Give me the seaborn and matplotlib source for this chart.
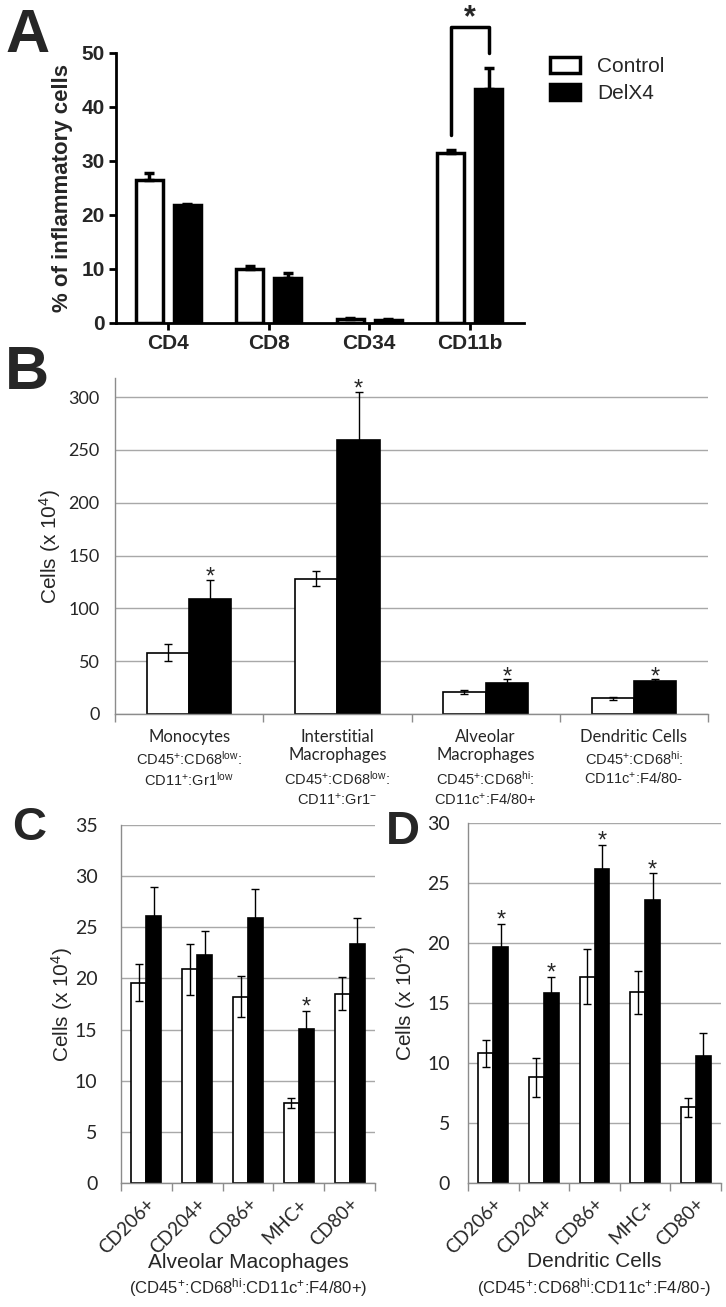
import numpy as np
import pandas as pd
import seaborn as sns
import matplotlib.pyplot as plt
from matplotlib.patches import Patch

sns.set_theme(style='white')
plt.rcParams['font.family'] = ['Liberation Sans', 'DejaVu Sans']
plt.rcParams['mathtext.fontset'] = 'custom'
plt.rcParams['mathtext.rm'] = 'Liberation Sans'
plt.rcParams['mathtext.it'] = 'Liberation Sans:italic'
plt.rcParams['mathtext.bf'] = 'Liberation Sans:bold'

# --- data ---
# A: % of inflammatory cells
a_cats = ['CD4', 'CD8', 'CD34', 'CD11b']
a_ctrl = [26.5, 10.0, 0.8, 31.4]
a_ctrl_err = [1.3, 0.6, 0.2, 0.7]
a_delx = [21.8, 8.3, 0.6, 43.3]
a_delx_err = [0.3, 1.0, 0.1, 3.9]

# B: cell counts (x 10^4)
b_cats = ['Monocytes', 'Interstitial\nMacrophages', 'Alveolar\nMacrophages', 'Dendritic Cells']
b_markers = [r'CD45$^{+}$:CD68$^{\rm low}$:' + '\n' + r'CD11$^{+}$:Gr1$^{\rm low}$',
             r'CD45$^{+}$:CD68$^{\rm low}$:' + '\n' + r'CD11$^{+}$:Gr1$^{-}$',
             r'CD45$^{+}$:CD68$^{\rm hi}$:' + '\n' + r'CD11c$^{+}$:F4/80+',
             r'CD45$^{+}$:CD68$^{\rm hi}$:' + '\n' + r'CD11c$^{+}$:F4/80-']
b_ctrl = [58, 128, 21, 15]
b_ctrl_err = [8, 7, 2, 1.5]
b_delx = [109, 259, 29, 31]
b_delx_err = [18, 46, 4, 2]
b_star = [True, True, True, True]

# C: alveolar macrophages, D: dendritic cells
cd_cats = ['CD206+', 'CD204+', 'CD86+', 'MHC+', 'CD80+']
c_ctrl = [19.6, 20.9, 18.2, 7.8, 18.5]
c_ctrl_err = [1.8, 2.5, 2.0, 0.5, 1.6]
c_delx = [26.1, 22.3, 25.9, 15.1, 23.4]
c_delx_err = [2.8, 2.3, 2.8, 1.7, 2.5]
c_star = [False, False, False, True, False]

d_ctrl = [10.8, 8.8, 17.2, 15.9, 6.3]
d_ctrl_err = [1.1, 1.6, 2.3, 1.8, 0.8]
d_delx = [19.7, 15.8, 26.2, 23.6, 10.6]
d_delx_err = [1.9, 1.4, 2.0, 2.2, 1.9]
d_star = [True, True, True, True, False]

groups = ['Control', 'DelX4']
pal = {'Control': 'white', 'DelX4': 'black'}
GRID = '#a8a8a8'
CALIBRI = ['Lato', 'DejaVu Sans']


def bars(ax, cats, ctrl, delx, width, gap, lw):
    df = pd.DataFrame({'cat': cats * 2,
                       'group': [groups[0]] * len(cats) + [groups[1]] * len(cats),
                       'val': ctrl + delx})
    sns.barplot(data=df, x='cat', y='val', hue='group', order=cats, hue_order=groups,
                palette=pal, saturation=1, edgecolor='black', linewidth=lw,
                width=width, gap=gap, errorbar=None, legend=False, ax=ax, zorder=2)


def errs(ax, cont, err, lw, cap, upper_only=False):
    xs = [p.get_x() + p.get_width() / 2 for p in cont]
    ys = [p.get_height() for p in cont]
    yerr = [np.zeros(len(err)), err] if upper_only else err
    ax.errorbar(xs, ys, yerr=yerr, fmt='none', ecolor='black', elinewidth=lw,
                capsize=cap, capthick=lw, zorder=3)
    return xs, [y + e for y, e in zip(ys, err)]


def excel_style(ax, n, ymax, ystep, ytick_size, ypad):
    ax.set_xlim(-0.5, n - 0.5)
    ax.set_ylim(0, ymax)
    ax.set_yticks(np.arange(0, ymax + 0.01, ystep))
    ax.yaxis.grid(True, color=GRID, lw=1)
    ax.set_axisbelow(True)
    for s in ['top', 'right']:
        ax.spines[s].set_visible(False)
    for s in ['left', 'bottom']:
        ax.spines[s].set_color('#8c8c8c')
        ax.spines[s].set_linewidth(1)
    ax.set_xticks(np.arange(-0.5, n, 1), minor=True)
    ax.tick_params(axis='x', which='minor', bottom=True, length=6, color='#8c8c8c', width=1)
    ax.tick_params(axis='x', which='major', length=0)
    ax.tick_params(axis='y', length=0, pad=ypad, labelsize=ytick_size)
    for t in ax.get_yticklabels():
        t.set_fontfamily(CALIBRI)
    ax.set_xlabel('')


def stars(ax, xs, tops, flags, off):
    for x, t, f in zip(xs, tops, flags):
        if f:
            ax.annotate('*', xy=(x, t), xytext=(0, off), textcoords='offset points',
                        ha='center', va='baseline', fontsize=17)


fig = plt.figure(figsize=(7.26, 13.07), dpi=100)

# ---------- A ----------
axA = fig.add_axes([116 / 726, 1 - 323 / 1307, 408 / 726, 270 / 1307])
bars(axA, a_cats, a_ctrl, a_delx, 0.76, 0.29, 2.5)
errs(axA, axA.containers[0], a_ctrl_err, 2.5, 3.5, upper_only=True)
errs(axA, axA.containers[1], a_delx_err, 2.5, 3.5, upper_only=True)
axA.set_xlim(-0.52, 3.54)
axA.set_ylim(0, 50)
axA.set_yticks(range(0, 51, 10))
for s in ['top', 'right']:
    axA.spines[s].set_visible(False)
for s in ['left', 'bottom']:
    axA.spines[s].set_color('black')
    axA.spines[s].set_linewidth(2)
axA.tick_params(axis='both', length=5, width=2, color='black', labelsize=15, pad=3,
                left=True, bottom=True)
for t in axA.get_xticklabels() + axA.get_yticklabels():
    t.set_fontweight('bold')
axA.set_xlabel('')
axA.set_ylabel('% of inflammatory cells', fontsize=16, fontweight='bold')
axA.yaxis.set_label_coords(-0.105, 0.5)
# significance bracket on CD11b
xl = axA.containers[0][3].get_x() + axA.containers[0][3].get_width() / 2
xr = axA.containers[1][3].get_x() + axA.containers[1][3].get_width() / 2
axA.plot([xl, xl, xr, xr], [34.8, 54.8, 54.8, 50.0], color='black', lw=2.5, clip_on=False)
axA.text((xl + xr) / 2, 56.5, '*', ha='center', va='center', fontsize=22, fontweight='bold')
handles = [Patch(facecolor=pal[g], edgecolor='black', linewidth=2.5) for g in groups]
axA.legend(handles, groups, loc='upper left', bbox_to_anchor=(1.064, 0.985), frameon=False,
           fontsize=15, handlelength=1.45, handleheight=0.82, handletextpad=0.8,
           labelspacing=0.35, borderaxespad=0, borderpad=0)
fig.text(5 / 726, 1 - 8 / 1307, 'A', fontsize=44, fontweight='bold', ha='left', va='top')

# ---------- B ----------
axB = fig.add_axes([115 / 726, 1 - 714 / 1307, 593 / 726, 336 / 1307])
bars(axB, b_cats, b_ctrl, b_delx, 0.57, 0, 1.2)
excel_style(axB, 4, 318, 50, 13, 11)
axB.set_yticks(range(0, 301, 50))
errs(axB, axB.containers[0], b_ctrl_err, 1, 3)
xs, tops = errs(axB, axB.containers[1], b_delx_err, 1, 3)
stars(axB, xs, tops, b_star, -3)
axB.set_xticklabels([])
for i, (name, mk) in enumerate(zip(b_cats, b_markers)):
    axB.annotate(name, xy=(i, 0), xycoords=('data', 'axes fraction'), xytext=(0, -11),
                 textcoords='offset points', ha='center', va='top', fontsize=12,
                 family=CALIBRI, linespacing=1.1)
    nl = name.count('\n') + 1
    axB.annotate(mk, xy=(i, 0), xycoords=('data', 'axes fraction'),
                 xytext=(0, -10.5 - 15 * nl), textcoords='offset points', ha='center',
                 va='top', fontsize=10.5, linespacing=1.25)
axB.set_ylabel(r'Cells (x 10$^{4}$)', fontsize=15)
axB.yaxis.set_label_coords(-0.088, 0.5)
fig.text(5 / 726, 1 - 345 / 1307, 'B', fontsize=44, fontweight='bold', ha='left', va='top')

# ---------- C & D ----------
panels = [
    ('C', [121 / 726, 1 - 1183 / 1307, 254 / 726, 358 / 1307], c_ctrl, c_ctrl_err, c_delx,
     c_delx_err, c_star, 35, -0.181, 'Alveolar Macophages',
     r'(CD45$^{+}$:CD68$^{\rm hi}$:CD11c$^{+}$:F4/80+)', (12, 806), 17, (-0.221, -0.293)),
    ('D', [468 / 726, 1 - 1183 / 1307, 253 / 726, 360 / 1307], d_ctrl, d_ctrl_err, d_delx,
     d_delx_err, d_star, 30, -0.198, 'Dendritic Cells',
     r'(CD45$^{+}$:CD68$^{\rm hi}$:CD11c$^{+}$:F4/80-)', (386, 810), 13, (-0.219, -0.291)),
]
for letter, rect, ctrl, cerr, delx, derr, flag, ymax, ylx, xl1, xl2, lpos, ypad, xly in panels:
    ax = fig.add_axes(rect)
    bars(ax, cd_cats, ctrl, delx, 0.59, 0, 1.2)
    excel_style(ax, 5, ymax, 5, 14, ypad)
    errs(ax, ax.containers[0], cerr, 1, 3)
    xs, tops = errs(ax, ax.containers[1], derr, 1, 3)
    stars(ax, xs, tops, flag, -2)
    ax.set_xticks(range(5))
    ax.set_xticklabels(cd_cats, rotation=45, ha='right', rotation_mode='anchor',
                       fontsize=13.5, family=CALIBRI)
    ax.tick_params(axis='x', which='major', pad=9)
    ax.set_ylabel(r'Cells (x 10$^{4}$)', fontsize=15)
    ax.yaxis.set_label_coords(ylx, 0.5)
    ax.text(0.5, xly[0], xl1, transform=ax.transAxes, ha='center', va='center', fontsize=15)
    ax.text(0.5, xly[1], xl2, transform=ax.transAxes, ha='center', va='center', fontsize=12)
    fig.text(lpos[0] / 726, 1 - lpos[1] / 1307, letter, fontsize=34, fontweight='bold',
             ha='left', va='top')

fig.savefig('out.png', dpi=100)
